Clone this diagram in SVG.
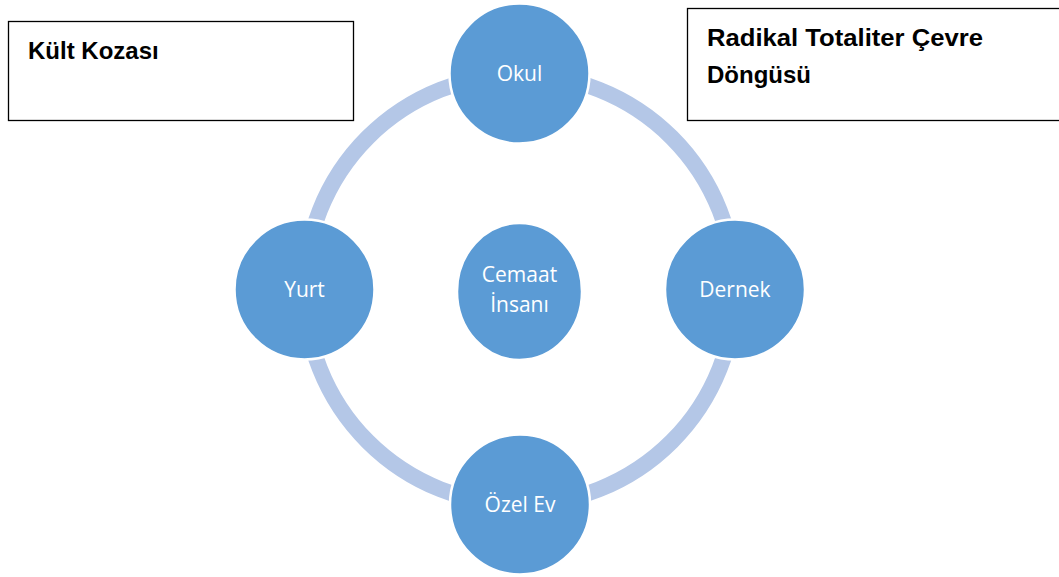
<svg xmlns="http://www.w3.org/2000/svg" width="1059" height="577" viewBox="0 0 1059 577">
<style>
.box{fill:#fff;stroke:#000;stroke-width:1.3}
.title{font-family:"Liberation Sans",Arial,sans-serif;font-weight:bold;font-size:24px;fill:#000}
.node{fill:#5B9BD5;stroke:#fff;stroke-width:2.5}
.lbl{font-family:"Open Sans","Liberation Sans",sans-serif;font-size:21px;fill:#fff;text-anchor:middle}
.ring{fill:none;stroke:#B4C7E7;stroke-width:16}
</style>
<rect width="1059" height="577" fill="#fff"/>
<g id="connectors">
<circle class="ring" cx="519.75" cy="289.5" r="215"/>
</g>
<g id="box-kult">
<rect class="box" x="8.5" y="21.5" width="345" height="99"/>
<text class="title" x="28" y="59">Kült Kozası</text>
</g>
<g id="box-radikal">
<rect class="box" x="687.5" y="8.5" width="380" height="112"/>
<text class="title" x="707" y="46" textLength="276" lengthAdjust="spacingAndGlyphs">Radikal Totaliter Çevre</text>
<text class="title" x="707" y="83">Döngüsü</text>
</g>
<g id="node-okul">
<circle class="node" cx="519.5" cy="73.5" r="70"/>
<text class="lbl" x="519.5" y="81">Okul</text>
</g>
<g id="node-dernek">
<circle class="node" cx="735" cy="289.5" r="70"/>
<text class="lbl" x="735" y="297">Dernek</text>
</g>
<g id="node-yurt">
<circle class="node" cx="304.5" cy="289.5" r="70"/>
<text class="lbl" x="304.5" y="297">Yurt</text>
</g>
<g id="node-ozelev">
<circle class="node" cx="520" cy="504.5" r="70"/>
<text class="lbl" x="520" y="512">Özel Ev</text>
</g>
<g id="node-cemaat">
<ellipse class="node" cx="519.5" cy="291.5" rx="62.5" ry="68.5" stroke="none"/>
<text class="lbl" x="519.5" y="282">Cemaat</text>
<text class="lbl" x="519.5" y="312">İnsanı</text>
</g>
</svg>
